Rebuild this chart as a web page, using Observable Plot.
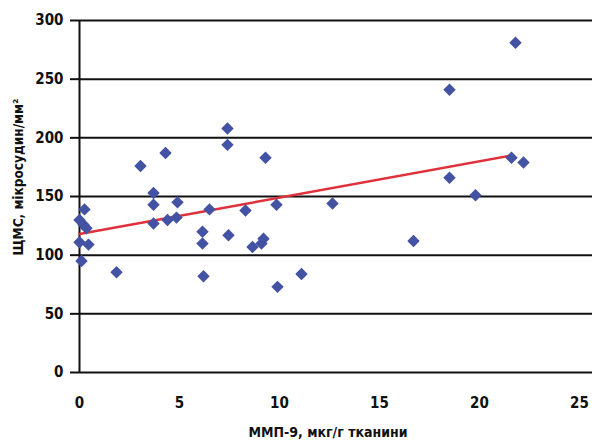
<!DOCTYPE html>
<html>
<head>
<meta charset="utf-8">
<script src="https://cdn.jsdelivr.net/npm/d3@7"></script>
<script src="https://cdn.jsdelivr.net/npm/@observablehq/plot@0.6"></script>
<style>
  html, body { margin: 0; padding: 0; background: #fff; }
  #chart svg { display: block; }
</style>
</head>
<body>
<div id="chart"></div>
<script>
// MMP-9 (мкг/г тканини) values
const mmp9 = [0.25, 0, 0.2, 0.35, 0, 0.45, 0.1, 1.85, 3.05, 4.3, 3.7, 3.7, 3.7, 4.4, 4.85, 4.9,
  7.4, 7.4, 9.3, 6.5, 8.3, 9.85, 6.15, 6.15, 7.45, 8.65, 9.2, 9.1, 6.2, 9.9, 11.1, 12.65,
  16.7, 18.5, 18.5, 19.8, 21.6, 22.2, 21.8];
// ЩМС (мікросудин/мм²) values
const density = [139, 130, 126, 123, 111, 109, 95, 85.5, 176, 187, 153, 143, 127, 130, 132, 145,
  208, 194, 183, 139, 138, 143, 120, 110, 117, 107, 114, 110, 82, 73, 84, 144,
  112, 241, 166, 151, 183, 179, 281];
// Trend line end points
const trendX = [0, 21.6];
const trendY = [118, 185];
// Tick labels
const xTicks = [0, 5, 10, 15, 20, 25];
const yTicks = [0, 50, 100, 150, 200, 250, 300];
const xTitle = "ММП-9, мкг/г тканини";
const yTitle = "ЩМС, мікросудин/мм²";

const points = mmp9.map((x, i) => ({x, y: density[i]}));
const trend = trendX.map((x, i) => ({x, y: trendY[i]}));

const font = '"Liberation Sans Narrow", "Arial Narrow", "DejaVu Sans Condensed", "Liberation Sans", sans-serif';

const chart = Plot.plot({
  width: 602,
  height: 443,
  marginLeft: 79,
  marginRight: 10,
  marginTop: 20,
  marginBottom: 71,
  x: {domain: [0, 25.65], ticks: xTicks, label: null},
  y: {domain: [0, 300], ticks: yTicks, label: null},
  style: {fontFamily: font, fontSize: "15px", fontWeight: "bold", color: "#111", background: "#fff"},
  marks: [
    Plot.ruleY(yTicks, {stroke: "#111", strokeWidth: 2}),
    Plot.ruleX([0], {stroke: "#111", strokeWidth: 2}),
    Plot.axisY({ticks: yTicks, tickSize: 9, tickPadding: 7, strokeWidth: 2, stroke: "#111", fontSize: 15}),
    Plot.axisX({ticks: xTicks, tickSize: 0, tickPadding: 25, fontSize: 15}),
    Plot.line(trend, {x: "x", y: "y", stroke: "#e0303c", strokeWidth: 2.5}),
    Plot.dot(points, {x: "x", y: "y", symbol: "diamond2", r: 5.6, fill: "#4352a3", stroke: "none"}),
    Plot.text([xTitle], {frameAnchor: "bottom", dy: 64, dx: -8, fontSize: 14, fontWeight: "bold", fill: "#111"}),
    Plot.text([yTitle], {frameAnchor: "left", rotate: -90, dx: -61, dy: 59, fontSize: 13.5, fontWeight: "bold", fill: "#111"})
  ]
});
document.getElementById("chart").appendChild(chart);
</script>
</body>
</html>
